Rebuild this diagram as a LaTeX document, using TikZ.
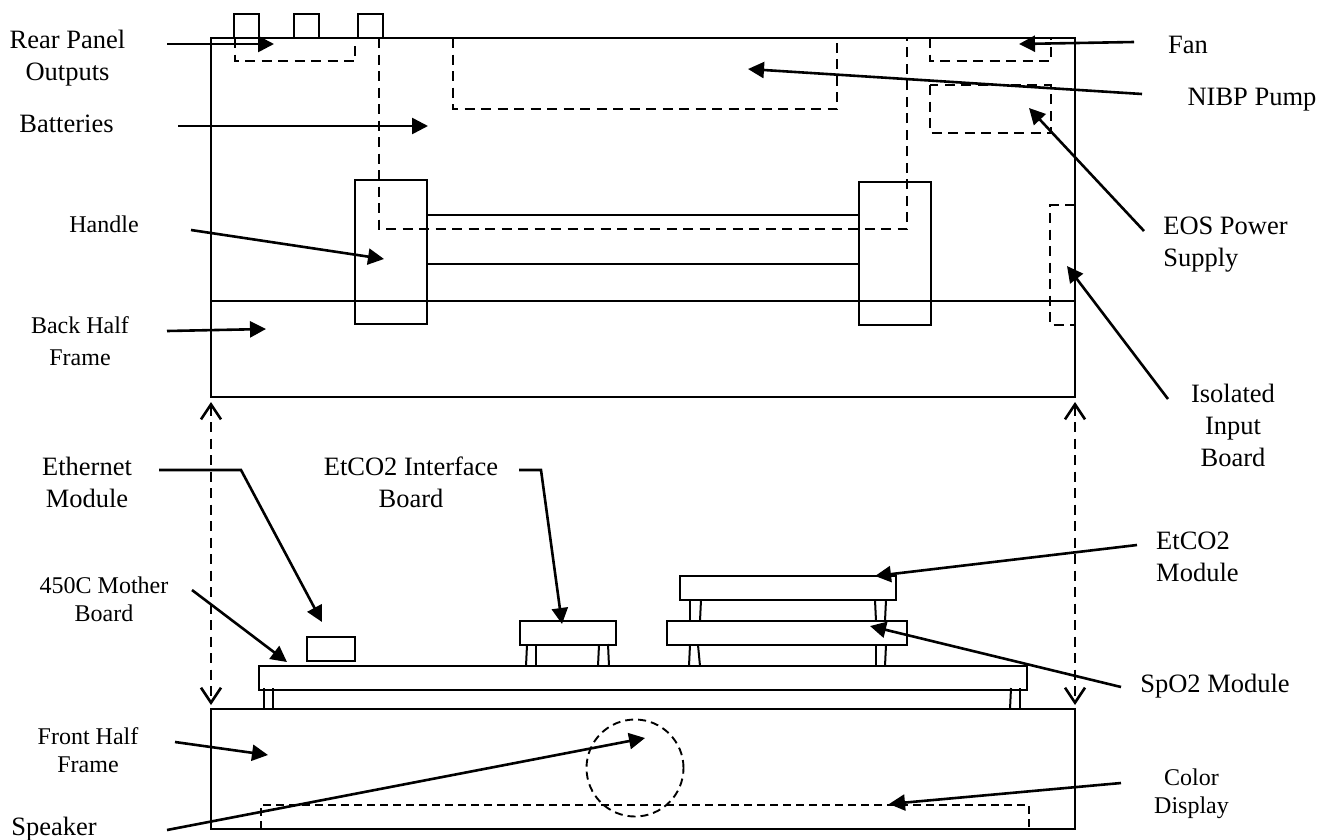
\documentclass[tikz,border=0pt]{standalone}
\usepackage{fontspec}
\setmainfont{Liberation Serif}
\usetikzlibrary{arrows.meta}
\tikzset{
  solid line/.style={draw=black,line width=2pt},
  boxnode/.style={solid line,anchor=north west,inner sep=0pt,outer sep=0pt},
  dashbox/.style={draw=black,line width=2.6pt,dash pattern=on 10pt off 6.5pt},
  thindash/.style={draw=black,line width=1.9pt,dash pattern=on 8pt off 5pt},
  ptr/.style={draw=black,line width=2.6pt,-{Triangle[length=16pt,width=16pt]}},
  dbl/.style={draw=black,line width=2.6pt,dash pattern=on 10pt off 6.5pt,{Straight Barb[length=15pt,width=20pt,line width=2.6pt]}-{Straight Barb[length=15pt,width=20pt,line width=2.6pt]}},
  lab/.style={align=center,inner sep=0pt,font=\fontsize{26.5}{32}\selectfont},
  labb/.style={align=center,inner sep=0pt,font=\fontsize{24}{32}\selectfont},
  labm/.style={align=center,inner sep=0pt,font=\fontsize{24}{28}\selectfont},
}
\newcommand{\bx}[6][boxnode]{%
  \pgfmathsetmacro{\bxw}{#5-#3}\pgfmathsetmacro{\bxh}{#6-#4}%
  \node[#1,minimum width=\bxw pt,minimum height=\bxh pt] (#2) at (#3,#4) {};}
\newcommand{\leg}[4]{\draw[solid line] (#1,#3) -- (#2,#4);}
\begin{document}
\begin{tikzpicture}[x=1pt,y=-1pt]
\useasboundingbox (0,0) rectangle (1330,839);
% back half
\bx{backframe}{211}{38}{1075}{397}
\draw[solid line] (211,301) coordinate (splitL) -- (1075,301) coordinate (splitR);
\bx{portA}{234}{14}{259}{38}
\bx{portB}{294}{14}{319}{38}
\bx{portC}{358}{14}{383}{38}
\bx{handleL}{355}{180}{427}{324}
\bx{handleR}{859}{182}{931}{325}
\draw[solid line] (427,215) coordinate (barTL) -- (859,215) coordinate (barTR);
\draw[solid line] (427,264) coordinate (barBL) -- (859,264) coordinate (barBR);
% dashed internals
\draw[dashbox] (235,38) -- (235,61) -- (355,61) -- (355,38);
\draw[dashbox] (235,38) -- (1051,38);
\draw[dashbox] (379,38) -- (379,229) -- (907,229) -- (907,38);
\draw[dashbox] (453,38) -- (453,109) -- (837,109) -- (837,38);
\draw[dashbox] (930,38) -- (930,61) -- (1051,61) -- (1051,38);
\draw[dashbox] (930,85) rectangle (1051,133);
\draw[dashbox] (1075,205) -- (1050,205) -- (1050,325) -- (1075,325) -- cycle;
% boards
\bx{ethbox}{307}{637}{355}{661}
\bx{ifbox}{520}{621}{616}{645}
\bx{etmod}{680}{576}{896}{600}
\bx{spmod}{667}{621}{907}{645}
\bx{mother}{259}{666}{1027}{690}
\bx{frontframe}{211}{709}{1075}{829}
% legs
\leg{527}{526}{645}{666}\leg{536}{536}{645}{666}\leg{599}{598}{645}{666}\leg{608}{609}{644}{666}
\leg{690}{690}{600}{621}\leg{701}{700}{600}{621}\leg{875}{876}{600}{621}\leg{886}{885}{600}{621}
\leg{690}{689}{645}{666}\leg{698}{700}{645}{666}\leg{876}{876}{645}{666}\leg{886}{885}{645}{666}
\leg{264}{264}{688}{709}\leg{273}{273}{688}{709}\leg{1011}{1010}{688}{709}\leg{1020}{1020}{688}{709}
% front internals
\node[thindash,circle,minimum size=97pt,inner sep=0pt] (speakerc) at (635,768) {};
\draw[thindash] (261,829) -- (261,805) -- (1029,805) -- (1029,829);
% double arrows
\coordinate (dTL) at (211,402); \coordinate (dBL) at (211,705);
\coordinate (dTR) at (1075,402); \coordinate (dBR) at (1075,705);
\draw[dbl] (dTL) -- (dBL);
\draw[dbl] (dTR) -- (dBR);
% labels
\node[lab] (lrear) at (67.5,58) {Rear Panel\\Outputs};
\node[lab] (lbat) at (66.5,123.5) {Batteries};
\node[labm] (lhandle) at (104,224) {Handle};
\node[labb] (lback) at (80,341.5) {Back Half\\Frame};
\node[lab] (leth) at (87,482) {Ethernet\\Module};
\node[lab] (lif) at (411,482) {EtCO2 Interface\\Board};
\node[labm] (lmb) at (104,599) {450C Mother\\Board};
\node[labm] (lfront) at (88,750) {Front Half\\Frame};
\node[lab] (lspk) at (54,829) {Speaker};
\node[lab] (lfan) at (1188,44.5) {Fan};
\node[lab] (lnibp) at (1252,100) {NIBP Pump};
\node[lab,align=left] (leos) at (1225.5,244.5) {EOS Power\\Supply};
\node[lab] (liso) at (1233,425) {Isolated\\Input\\Board};
\node[lab,align=left,anchor=west] (lco2) at (1156,557) {EtCO2\\Module};
\node[lab] (lspo) at (1215,686) {SpO2 Module};
\node[labm] (lcol) at (1191.5,793.5) {Color\\Display};
% pointer ends
\foreach \n/\x/\y in {s1/167/44,e1/274/44,s2/178/126,e2/428/126,s3/191/230,e3/384/259,s4/167/331,e4/266/329,
  s5/1134/42,e5/1019/44,s6/1142/94,e6/748/69,s7/1144/231,e7/1029/108,s8/1168/399,e8/1067/266,
  s9/159/470,k9/241/470,e9/322/622,s10/519/470,k10/541/470,e10/562/624,s11/192/590,e11/287/662,
  s12/1137/545,e12/875/576,s13/1121/687,e13/870/626,s14/1121/783,e14/889/804,s15/175/742,e15/268/755,s16/167/830,e16/645/738}
  {\coordinate (\n) at (\x,\y);}
\foreach \a/\b in {s1/e1,s2/e2,s3/e3,s4/e4,s5/e5,s6/e6,s7/e7,s8/e8,s11/e11,s12/e12,s13/e13,s14/e14,s15/e15,s16/e16}
  {\draw[ptr] (\a) -- (\b);}
\draw[ptr] (s9) -- (k9) -- (e9);
\draw[ptr] (s10) -- (k10) -- (e10);
\end{tikzpicture}
\end{document}
